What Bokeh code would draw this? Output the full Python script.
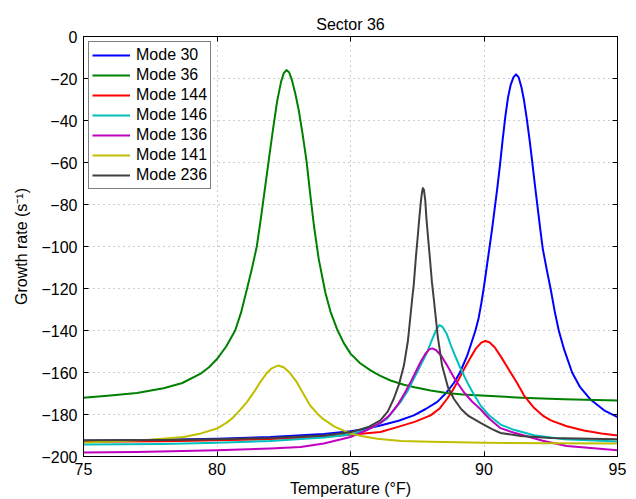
from bokeh.plotting import figure
from bokeh.models import LinearAxis, Range1d, FixedTicker, Legend, LegendItem, CustomLabelingPolicy
from bokeh.embed import file_html
from bokeh.resources import INLINE

FONT = "Liberation Sans"

title_text = "Sector 36"
x_label = "Temperature (°F)"
y_label = "Growth rate (s⁻¹)"
x_ticks = [75, 80, 85, 90, 95]
y_ticks = [-200, -180, -160, -140, -120, -100, -80, -60, -40, -20, 0]

# Mode 30 (blue)
x_mode30 = [75, 78, 80, 82, 84, 85, 85.5, 86.12, 86.8, 87.37, 87.8, 88.25, 88.6, 88.87, 89.1, 89.37, 89.5, 89.68, 89.8, 89.9,
            90.0, 90.1, 90.2, 90.3, 90.4, 90.5, 90.6, 90.7, 90.8, 90.9, 91.0, 91.1, 91.2, 91.3, 91.4, 91.5, 91.6, 91.7,
            91.8, 91.9, 92.0, 92.1, 92.2, 92.35, 92.5, 92.65, 92.8, 93.0, 93.3, 93.6, 94.0, 94.5, 95.0]
y_mode30 = [-192.5, -192, -191.5, -190.7, -189.3, -188, -187, -185.2, -183, -180.4, -177.5, -174, -169.5, -165, -160, -152, -147, -140, -134, -127,
            -119, -110, -101, -92, -82, -72, -61, -49, -38, -29, -23, -19.5, -18, -19.5, -24, -30.5, -39, -48.5,
            -59, -70, -80.5, -91, -101, -111, -120.5, -131, -140, -149, -160, -167, -173, -178, -181.2]

# Mode 36 (green)
x_mode36 = [75, 76, 77, 78, 78.7, 79.37, 79.7, 80, 80.35, 80.68, 80.9, 81.12, 81.3, 81.49, 81.65, 81.8, 81.94, 82.1, 82.25, 82.4,
            82.5, 82.6, 82.7, 82.8, 82.93, 83.06, 83.2, 83.35, 83.5, 83.63, 83.81, 84.06, 84.25, 84.5, 84.75, 85, 85.35,
            85.75, 86.1, 86.5, 87, 87.4, 88, 88.6, 89.2, 89.9, 91.4, 93, 95]
y_mode36 = [-172, -171, -169.8, -167.5, -165, -160.7, -157.5, -153.6, -147.5, -140, -131.5, -120.4, -111, -100, -86, -72, -58.8, -44, -31, -21.5,
            -17.5, -16, -17, -20.5, -27, -35, -46, -59, -76, -90, -106, -122, -131, -139.5, -146, -151, -155.5,
            -159, -161.5, -163.8, -165.8, -167, -168.6, -169.8, -170.5, -171, -172, -172.7, -173.3]

# Mode 144 (red)
x_mode144 = [75, 78, 80, 82, 84, 85, 86.12, 86.75, 87.4, 88, 88.35, 88.62, 88.8, 89, 89.25, 89.5, 89.7, 89.9, 90.05, 90.2,
             90.4, 90.62, 90.9, 91.24, 91.5, 91.85, 92.2, 92.5, 93.1, 93.74, 94.4, 95]
y_mode144 = [-193, -192.7, -192.3, -191.7, -190.6, -189.6, -188.3, -186, -183.5, -180.4, -177, -172.5, -169, -164.6, -158.5, -152.8, -148.5, -145.8, -145, -145.6,
             -148, -152.2, -158, -165, -171, -176.5, -180.5, -182.8, -185.6, -187.6, -189, -190]

# Mode 146 (cyan)
x_mode146 = [75, 78, 80, 82, 84, 85, 85.6, 86, 86.37, 86.87, 87.15, 87.37, 87.65, 87.87, 88.05, 88.2, 88.33, 88.45, 88.6, 88.81,
             89.1, 89.37, 89.6, 89.87, 90.2, 90.62, 91.12, 91.87, 93, 95]
y_mode146 = [-194.3, -194, -193.5, -192.6, -191, -189.5, -187.3, -185, -182, -174.1, -168.5, -163, -156, -150.4, -144.5, -140, -137.4, -138.3, -141.5, -148.8,
             -157.5, -164.6, -170, -175.7, -180.5, -184.8, -187.3, -189.9, -191.8, -192.8]

# Mode 136 (magenta)
x_mode136 = [75, 77, 80, 82, 83.13, 84, 85, 85.6, 86.12, 86.45, 86.75, 87, 87.25, 87.45, 87.62, 87.8, 87.95, 88.06, 88.2, 88.4,
             88.62, 88.9, 89.24, 89.55, 89.87, 90.2, 90.62, 91.1, 91.5, 92.2, 93.1, 95]
y_mode136 = [-198.1, -197.8, -197, -196.2, -195.5, -193.8, -190.7, -187.5, -184, -180.5, -175.7, -170.5, -164.6, -159.5, -155.1, -151.2, -149, -148.5, -149.3, -152,
             -156.7, -163, -169.3, -173.8, -177.5, -182, -186.5, -188.6, -190, -192.5, -195, -197]

# Mode 141 (yellow)
x_mode141 = [75, 76.25, 77.5, 78.75, 79.4, 80, 80.35, 80.6, 80.85, 81.12, 81.4, 81.62, 81.85, 82.05, 82.28, 82.5, 82.75, 82.99, 83.25, 83.49,
             83.75, 83.96, 84.4, 85, 85.5, 86, 86.9, 88, 90, 92.5, 95]
y_mode141 = [-193.3, -192.7, -192, -190.7, -189, -186.7, -184, -181.5, -178, -174.1, -169, -164.6, -160.5, -158, -156.7, -157.5, -160.5, -164.6, -170.5, -175.7,
             -179.5, -182, -185.8, -189.1, -190.5, -191.5, -192.6, -193, -193.5, -193.7, -193.8]

# Mode 236 (dark grey)
x_mode236 = [75, 78, 80, 82, 84, 85, 85.7, 86.12, 86.4, 86.62, 86.82, 87.0, 87.15, 87.31, 87.37, 87.45, 87.52, 87.58, 87.64, 87.68,
             87.71, 87.75, 87.8, 87.84, 87.9, 87.97, 88.05, 88.12, 88.27, 88.43, 88.65, 88.87, 89.15, 89.4, 89.87, 90.3, 90.62,
             91.37, 92.5, 95]
y_mode236 = [-192.3, -192.1, -191.8, -191.2, -190, -188.5, -185.8, -182.8, -178.5, -172.5, -165.5, -156.7, -145, -125, -118, -105, -95, -86, -78, -74,
             -72.2, -73, -78, -86, -95, -105, -117, -125, -143, -156.7, -167, -172.5, -177.5, -180.5, -184, -187, -188.8,
             -190.2, -191.2, -191.8]

series = [
    ("Mode 30", x_mode30, y_mode30, "#0000ff"),
    ("Mode 36", x_mode36, y_mode36, "#008000"),
    ("Mode 144", x_mode144, y_mode144, "#ff0000"),
    ("Mode 146", x_mode146, y_mode146, "#00bfbf"),
    ("Mode 136", x_mode136, y_mode136, "#bf00bf"),
    ("Mode 141", x_mode141, y_mode141, "#bfbf00"),
    ("Mode 236", x_mode236, y_mode236, "#404040"),
]

p = figure(width=636, height=499, output_backend="svg", toolbar_location=None,
           x_range=Range1d(75, 95), y_range=Range1d(-200, 0),
           min_border_left=83, min_border_right=19, min_border_top=36, min_border_bottom=41)
p.background_fill_color = "white"
p.border_fill_color = "white"
p.outline_line_color = "black"
p.outline_line_width = 1

p.title.text = title_text
p.title.align = "center"
p.title.text_font = FONT
p.title.text_font_size = "16px"
p.title.text_font_style = "normal"
p.title.text_color = "black"
p.title.standoff = 8

def minus(v):
    return str(v).replace("-", "\u2212")

hide_labels = CustomLabelingPolicy(code="""
const all = Array.from(indices);
for (const i of all) { indices.unset(i); }
return indices;
""")

def style_axis(ax, ticks, show_labels):
    ax.ticker = FixedTicker(ticks=ticks)
    ax.major_tick_in = 5
    ax.major_tick_out = 0
    ax.minor_tick_line_color = None
    ax.axis_line_color = "black"
    ax.axis_line_width = 1
    ax.major_tick_line_color = "black"
    ax.major_label_text_font = FONT
    ax.major_label_text_color = "black"
    ax.axis_label_text_font = FONT
    ax.axis_label_text_font_size = "16px"
    ax.axis_label_text_font_style = "normal"
    ax.axis_label_text_color = "black"
    if show_labels:
        ax.major_label_text_font_size = "16px"
        ax.major_label_overrides = {float(t): minus(t) for t in ticks}
    else:
        ax.major_label_text_font_size = "0px"
        ax.major_label_policy = hide_labels

style_axis(p.xaxis[0], x_ticks, True)
style_axis(p.yaxis[0], y_ticks, True)
p.xaxis[0].axis_label = x_label
p.yaxis[0].axis_label = y_label
p.xaxis[0].major_label_standoff = 6
p.xaxis[0].axis_label_standoff = 2
p.yaxis[0].major_label_standoff = 6
p.yaxis[0].axis_label_standoff = 8

top_ax = LinearAxis()
right_ax = LinearAxis()
style_axis(top_ax, x_ticks, False)
style_axis(right_ax, y_ticks, False)
top_ax.major_label_standoff = 0
right_ax.major_label_standoff = 0
p.add_layout(top_ax, "above")
p.add_layout(right_ax, "right")

p.xgrid.ticker = FixedTicker(ticks=x_ticks)
p.ygrid.ticker = FixedTicker(ticks=y_ticks)
for g in (p.xgrid, p.ygrid):
    g.grid_line_color = "#9a9a9a"
    g.grid_line_dash = "1 4"
    g.grid_line_width = 1

items = []
for name, xs, ys, col in series:
    r = p.line(xs, ys, line_color=col, line_width=2, line_join="round")
    items.append(LegendItem(label=name, renderers=[r]))

legend = Legend(items=items, location="top_left")
legend.margin = 5
legend.padding = 3
legend.spacing = 0
legend.glyph_width = 38
legend.glyph_height = 20
legend.label_height = 20
legend.label_standoff = 6
legend.label_text_font = FONT
legend.label_text_font_size = "16px"
legend.label_text_color = "black"
legend.border_line_color = "black"
legend.border_line_width = 1
legend.background_fill_color = "white"
legend.background_fill_alpha = 1
p.add_layout(legend, "center")

open("out.html", "w").write(file_html(p, INLINE))
